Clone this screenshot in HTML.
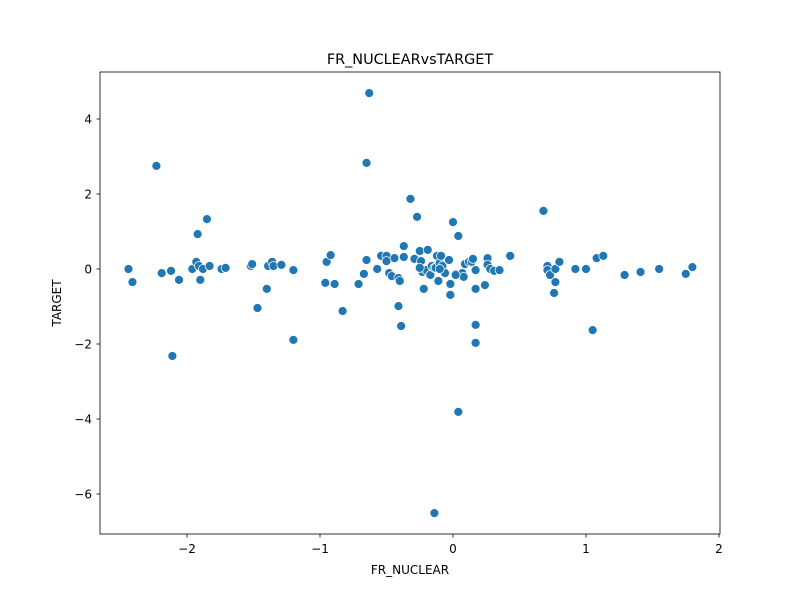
<!DOCTYPE html>
<html><head><meta charset="utf-8"><style>
body{margin:0;background:#fff;font-family:"Liberation Sans","DejaVu Sans",sans-serif}
svg text{font-family:"DejaVu Sans","Liberation Sans",sans-serif}
</style></head><body>
<svg id="chart" width="800" height="600" xmlns="http://www.w3.org/2000/svg">
<rect width="800" height="600" fill="#fff"/>
<text x="410" y="64" text-anchor="middle" font-size="14.4">FR_NUCLEARvsTARGET</text>
<g id="points"></g>
<rect x="100" y="72" width="620" height="462" fill="none" stroke="#000" stroke-width="0.8"/>
<g id="xticks"></g>
<g id="yticks"></g>
<text x="410" y="574" text-anchor="middle" font-size="12">FR_NUCLEAR</text>
<text x="61" y="303" text-anchor="middle" font-size="12" transform="rotate(-90 61 303)">TARGET</text>
</svg>
<script>
const xVals=[-2.44,-2.41,-2.23,-2.19,-2.12,-2.11,-2.06,-1.96,-1.93,-1.92,-1.91,-1.90,-1.88,-1.85,-1.83,-1.74,-1.71,-1.52,-1.51,-1.47,-1.40,-1.39,-1.36,-1.35,-1.29,-1.20,-1.20,-0.96,-0.95,-0.92,-0.89,-0.83,-0.71,-0.67,-0.65,-0.57,-0.54,-0.50,-0.50,-0.48,-0.46,-0.41,-0.41,-0.40,-0.39,-0.37,-0.37,-0.32,-0.29,-0.27,-0.25,-0.24,-0.23,-0.22,-0.20,-0.19,-0.17,-0.16,-0.14,-0.14,-0.13,-0.12,-0.11,-0.10,-0.09,-0.08,-0.06,-0.03,-0.02,-0.02,0.00,0.02,0.04,0.04,0.07,0.08,0.09,0.12,0.14,0.15,0.17,0.17,0.17,0.17,0.24,0.26,0.26,0.28,0.31,0.35,0.43,0.68,0.71,0.71,0.73,0.76,0.77,0.77,0.80,0.92,1.00,1.05,1.08,1.13,1.29,1.41,1.55,1.75,1.80,-0.63,-0.65,-0.10,-0.25,-0.44,0.02];
const yVals=[0.00,-0.35,2.75,-0.11,-0.05,-2.32,-0.29,0.00,0.19,0.93,0.08,-0.29,0.00,1.33,0.08,0.00,0.03,0.08,0.13,-1.04,-0.53,0.08,0.19,0.08,0.11,-1.89,-0.03,-0.37,0.19,0.37,-0.40,-1.12,-0.40,-0.13,0.24,0.00,0.35,0.35,0.21,-0.11,-0.19,-0.24,-0.99,-0.32,-1.52,0.61,0.32,1.87,0.27,1.39,0.48,0.21,-0.08,-0.53,-0.03,0.51,-0.16,0.08,0.03,-6.51,0.03,0.35,-0.32,0.16,0.35,0.08,-0.11,0.24,-0.69,-0.40,1.25,-0.13,0.88,-3.81,-0.11,-0.21,0.13,0.19,0.19,0.27,-0.03,-0.53,-1.49,-1.97,-0.43,0.29,0.11,0.00,-0.05,-0.03,0.35,1.55,0.08,-0.03,-0.16,-0.64,-0.35,0.00,0.19,0.00,0.00,-1.63,0.29,0.35,-0.16,-0.08,0.00,-0.13,0.05,4.69,2.83,0.00,0.03,0.29,-0.16];
const xTicks=[-2,-1,0,1,2];
const yTicks=[-6,-4,-2,0,2,4];
const xScale=v=>453+v*133;
const yScale=v=>269-v*37.5;
const NS="http://www.w3.org/2000/svg";
const pg=document.getElementById('points');
xVals.forEach((x,i)=>{
  const c=document.createElementNS(NS,'circle');
  c.setAttribute('cx',xScale(x));c.setAttribute('cy',yScale(yVals[i]));
  c.setAttribute('r',4.5);c.setAttribute('fill','#1f77b4');c.setAttribute('stroke','#fff');c.setAttribute('stroke-width',0.75);
  
  
  pg.appendChild(c);
});
const xg=document.getElementById('xticks');
xTicks.forEach(t=>{
  const px=xScale(t);
  const l=document.createElementNS(NS,'line');
  l.setAttribute('x1',px);l.setAttribute('x2',px);l.setAttribute('y1',534);l.setAttribute('y2',537.5);l.setAttribute('stroke','#000');l.setAttribute('stroke-width',0.8);
  
  
  xg.appendChild(l);
  const tx=document.createElementNS(NS,'text');
  tx.setAttribute('x',px);tx.setAttribute('y',553);tx.setAttribute('text-anchor','middle');tx.setAttribute('font-size','12');
  tx.textContent=t<0?'\u2212'+Math.abs(t):String(t);
  
  
  xg.appendChild(tx);
});
const yg=document.getElementById('yticks');
yTicks.forEach(t=>{
  const py=yScale(t);
  const l=document.createElementNS(NS,'line');
  l.setAttribute('x1',96.5);l.setAttribute('x2',100);l.setAttribute('y1',py);l.setAttribute('y2',py);l.setAttribute('stroke','#000');l.setAttribute('stroke-width',0.8);
  
  
  yg.appendChild(l);
  const tx=document.createElementNS(NS,'text');
  tx.setAttribute('x',92);tx.setAttribute('y',py+4.5);tx.setAttribute('text-anchor','end');tx.setAttribute('font-size','12');
  tx.textContent=t<0?'\u2212'+Math.abs(t):String(t);
  
  
  yg.appendChild(tx);
});
</script>
</body></html>
